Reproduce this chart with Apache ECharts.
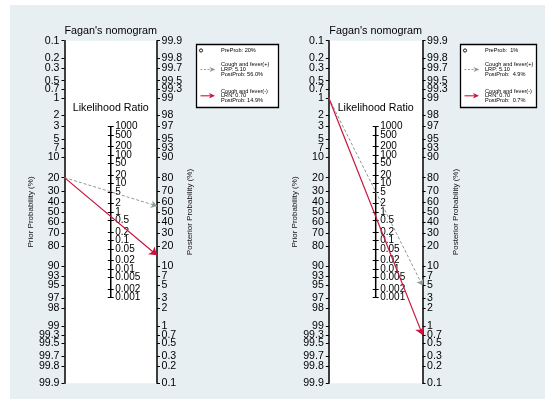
<!DOCTYPE html>
<html><head><meta charset="utf-8">
<script src="https://cdn.jsdelivr.net/npm/echarts@6/dist/echarts.min.js"></script>
<style>
html,body{margin:0;padding:0;background:#fff;}
#bg{position:absolute;left:10px;top:5px;width:535px;height:394px;background:#e8eff2;}
#c{position:absolute;left:0;top:0;width:545px;height:399px;}
</style>
</head><body><div id="bg"></div><div id="c"></div>
<script>
// ---- data ----
const probTicks = [0.1,0.2,0.3,0.5,0.7,1,2,3,5,7,10,20,30,40,50,60,70,80,90,93,95,97,98,99,99.3,99.5,99.7,99.8,99.9];
const lrTicks = [1000,500,200,100,50,20,10,5,2,1,0.5,0.2,0.1,0.05,0.02,0.01,0.005,0.002,0.001];
const panelTitles = ["Fagan's nomogram","Fagan's nomogram"];
const priorProb = [20, 1];
const lrPositive = [5.10, 5.10];
const lrNegative = [0.70, 0.70];
const postPositive = [56.0, 4.9];
const postNegative = [14.9, 0.7];
const testName = "Cough and fever";

// ---- layout ----
const FONT = '"Liberation Sans", Arial, Helvetica, sans-serif';
const grids = [
  {left: 64.5, top: 40.7, width: 92.5, height: 342.6},
  {left: 328.8, top: 40.7, width: 93.8, height: 342.6}
];
const legendBoxes = [
  {x: 196.5, y: 44.5, w: 82, h: 63},
  {x: 460.5, y: 44.5, w: 76, h: 63}
];
const RED = '#c8143c', GRAY = '#8a9c97';

const logit = p => Math.log(p / (1 - p));
const L = logit(probTicks[probTicks.length - 1] / 100) + 1e-9;
const probVals = probTicks.map(p => logit(p / 100));
const lrVals = lrTicks.map(v => Math.log(v));
const lrValsEven = lrVals.filter((v, i) => i % 2 === 0);
const lrValsOdd = lrVals.filter((v, i) => i % 2 === 1);
function nearestLabel(vals, ticks, v) {
  let bi = 0, bd = Infinity;
  vals.forEach((x, i) => { const d = Math.abs(x - v); if (d < bd) { bd = d; bi = i; } });
  return String(ticks[bi]);
}
const probFmt = v => nearestLabel(probVals, probTicks, v);
const lrFmt = v => nearestLabel(lrVals, lrTicks, v);

const grid = [], xAxis = [], yAxis = [], series = [], graphic = [];
grids.forEach((g, i) => {
  grid.push({left: g.left, top: g.top, width: g.width, height: g.height, show: true,
    backgroundColor: '#fff', borderWidth: 0, containLabel: false});
  xAxis.push({type: 'value', gridIndex: i, min: 0, max: 1, show: false});
  const base = yAxis.length;
  const axisLine = {show: true, onZero: false, lineStyle: {color: '#000', width: 1.5}};
  const tickStyle = {color: '#000', width: 1};
  const lrLabel = vals => ({customValues: vals, formatter: lrFmt, color: '#000', fontSize: 10, fontFamily: FONT, margin: 4.5,
      showMinLabel: true, showMaxLabel: true, hideOverlap: false});
  // prior
  yAxis.push({type: 'value', gridIndex: i, position: 'left', min: -L, max: L, inverse: true,
    axisLine, splitLine: {show: false},
    axisTick: {show: true, length: 3, customValues: probVals, lineStyle: tickStyle},
    axisLabel: {customValues: probVals, formatter: probFmt, color: '#000', fontSize: 10.6, fontFamily: FONT, margin: 5,
      showMinLabel: true, showMaxLabel: true, hideOverlap: false},
    name: 'Prior Probability (%)', nameLocation: 'middle', nameRotate: 90, nameGap: 27,
    nameTextStyle: {fontSize: 8, color: '#111', fontFamily: FONT}});
  // posterior
  yAxis.push({type: 'value', gridIndex: i, position: 'right', min: -L, max: L,
    axisLine, splitLine: {show: false},
    axisTick: {show: true, length: 3, customValues: probVals, lineStyle: tickStyle},
    axisLabel: {customValues: probVals, formatter: probFmt, color: '#000', fontSize: 10.6, fontFamily: FONT, margin: 4.5,
      showMinLabel: true, showMaxLabel: true, hideOverlap: false},
    name: 'Posterior Probability (%)', nameLocation: 'middle', nameRotate: 90, nameGap: 27,
    nameTextStyle: {fontSize: 8, color: '#111', fontFamily: FONT}});
  // LR axis (right side ticks + every other label)
  yAxis.push({type: 'value', gridIndex: i, position: 'right', offset: -g.width / 2, min: -2 * L, max: 2 * L,
    axisLine: {show: false}, splitLine: {show: false},
    axisTick: {show: true, length: 3, customValues: lrVals, lineStyle: tickStyle},
    axisLabel: lrLabel(lrValsEven)});
  // LR axis (remaining labels)
  yAxis.push({type: 'value', gridIndex: i, position: 'right', offset: -g.width / 2, min: -2 * L, max: 2 * L,
    axisLine: {show: false}, splitLine: {show: false},
    axisTick: {show: false},
    axisLabel: lrLabel(lrValsOdd)});
  // LR axis (left side ticks)
  yAxis.push({type: 'value', gridIndex: i, position: 'left', offset: -g.width / 2, min: -2 * L, max: 2 * L,
    axisLine: {show: false}, splitLine: {show: false},
    axisTick: {show: true, length: 3, customValues: lrVals, lineStyle: tickStyle},
    axisLabel: {show: false}});
  // LR axis line
  series.push({type: 'line', xAxisIndex: i, yAxisIndex: base + 2, symbol: 'none', silent: true,
    lineStyle: {color: '#000', width: 1.5}, z: 1,
    data: [[0.5, Math.log(Math.max(...lrTicks))], [0.5, Math.log(Math.min(...lrTicks))]]});
  // test lines
  const a = logit(priorProb[i] / 100);
  series.push({type: 'lines', coordinateSystem: 'cartesian2d', xAxisIndex: i, yAxisIndex: base + 1,
    symbol: ['none', 'arrow'], symbolSize: 6, silent: true, z: 3,
    lineStyle: {color: GRAY, width: 1, type: [3, 2], opacity: 1},
    data: [{coords: [[0, -a], [1, logit(postPositive[i] / 100)]]}]});
  series.push({type: 'lines', coordinateSystem: 'cartesian2d', xAxisIndex: i, yAxisIndex: base + 1,
    symbol: ['none', 'arrow'], symbolSize: 7.5, silent: true, z: 4,
    lineStyle: {color: RED, width: 1.2, opacity: 1},
    data: [{coords: [[0, -a], [1, logit(postNegative[i] / 100)]]}]});

  const cx = g.left + g.width / 2;
  graphic.push({type: 'text', x: cx, y: 31, silent: true,
    style: {text: panelTitles[i], font: '10.8px ' + FONT, fill: '#000', align: 'center', verticalAlign: 'middle', textAlign: 'center', textVerticalAlign: 'middle'}});
  graphic.push({type: 'text', x: cx, y: 108.5, silent: true,
    style: {text: 'Likelihood Ratio', font: '10.7px ' + FONT, fill: '#000', align: 'center', verticalAlign: 'middle', textAlign: 'center', textVerticalAlign: 'middle'}});

  // legend
  const b = legendBoxes[i];
  const pad = (s, n) => s.padStart(n, ' ');
  const lf = '5.6px ' + FONT;
  const t = (txt, x, y) => ({type: 'text', x, y, silent: true, z: 10,
    style: {text: txt, font: lf, fill: '#000', align: 'left', verticalAlign: 'middle', textAlign: 'left', textVerticalAlign: 'middle'}});
  graphic.push({type: 'rect', silent: true, z: 9, shape: {x: b.x, y: b.y, width: b.w, height: b.h},
    style: {fill: '#fff', stroke: '#000', lineWidth: 1.3}});
  graphic.push({type: 'circle', silent: true, z: 10, shape: {cx: b.x + 4.5, cy: b.y + 6, r: 1.6},
    style: {fill: '#fff', stroke: '#000', lineWidth: 0.9}});
  const tx = b.x + 24.5;
  graphic.push(t('PreProb: ' + pad(String(priorProb[i]) + '%', 3), tx, b.y + 6));
  const ay1 = b.y + 25, ay2 = b.y + 51.3;
  const sp = 4.6;
  graphic.push({type: 'line', silent: true, z: 10, shape: {x1: b.x + 4, y1: ay1, x2: b.x + 14, y2: ay1},
    style: {stroke: GRAY, lineWidth: 1, lineDash: [2, 1.5]}});
  graphic.push({type: 'polygon', silent: true, z: 10, shape: {points: [[b.x + 13, ay1 - 2.6], [b.x + 19, ay1], [b.x + 13, ay1 + 2.6], [b.x + 14.5, ay1]]},
    style: {fill: GRAY}});
  graphic.push(t(testName + '(+)', tx, ay1 - sp));
  graphic.push(t('LRP: ' + lrPositive[i].toFixed(2), tx, ay1));
  graphic.push(t('PostProb: ' + pad(postPositive[i].toFixed(1) + '%', 5), tx, ay1 + sp));
  graphic.push({type: 'line', silent: true, z: 10, shape: {x1: b.x + 4, y1: ay2, x2: b.x + 14, y2: ay2},
    style: {stroke: RED, lineWidth: 1.1}});
  graphic.push({type: 'polygon', silent: true, z: 10, shape: {points: [[b.x + 12.5, ay2 - 2.8], [b.x + 18.5, ay2], [b.x + 12.5, ay2 + 2.8], [b.x + 14, ay2]]},
    style: {fill: RED}});
  graphic.push(t(testName + '(-)', tx, ay2 - sp));
  graphic.push(t('LRN: ' + lrNegative[i].toFixed(2), tx, ay2));
  graphic.push(t('PostProb: ' + pad(postNegative[i].toFixed(1) + '%', 5), tx, ay2 + sp));
});

const chart = echarts.init(document.getElementById('c'), null, {renderer: 'canvas'});
chart.setOption({
  backgroundColor: 'transparent',
  animation: false,
  grid, xAxis, yAxis, series, graphic
});
</script>
</body></html>
